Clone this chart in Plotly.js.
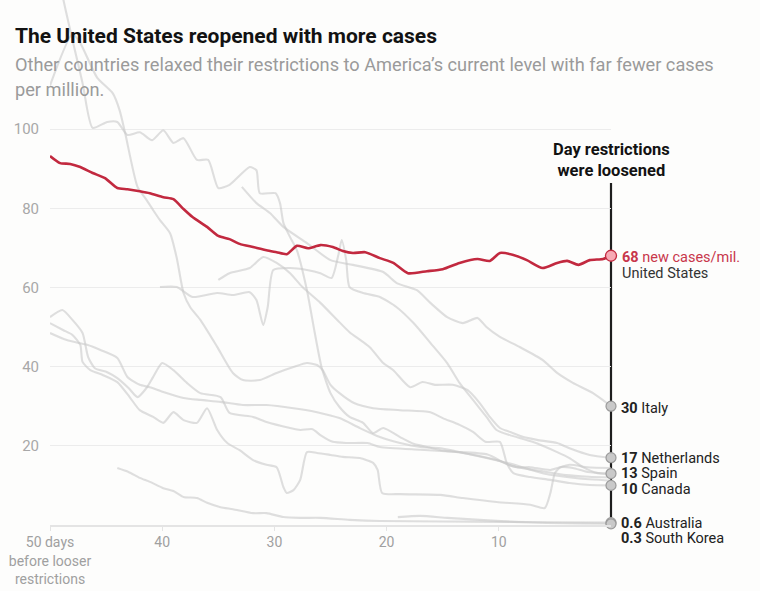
<!DOCTYPE html>
<html>
<head>
<meta charset="utf-8">
<script src="https://cdn.plot.ly/plotly-3.0.1.min.js"></script>
<style>
  html, body { margin: 0; padding: 0; background: #fdfdfc; }
  #chart { width: 760px; height: 591px; }
</style>
</head>
<body>
<div id="chart"></div>
<script>
// ---- Data (days relative to loosening, new cases per million) ----
const usDays = [-50,-49.1,-48.2,-47.3,-46.2,-45.1,-44,-43.1,-42,-41.1,-39.9,-39,-38.1,-37.3,-36,-35,-34,-33.1,-31.9,-30.7,-29.8,-28.9,-28,-27,-25.9,-24.8,-23.9,-23,-21.9,-20.6,-19.4,-18.1,-16.4,-15,-13.5,-11.9,-10.8,-9.9,-8.7,-7.5,-6.1,-4.8,-3.9,-2.9,-1.9,-0.7,0];
const usCases = [93.2,91.4,91.2,90.4,88.9,87.6,85.1,84.8,84.3,83.8,82.8,82.3,79.8,77.8,75.3,73.0,72.2,71.0,70.2,69.4,68.9,68.4,70.5,69.9,70.7,70.2,69.2,68.7,68.9,67.4,66.2,63.6,64.1,64.6,66.2,67.2,66.7,68.7,68.2,66.9,64.9,66.2,66.7,65.7,66.9,67.2,68];

const italyDays = [-32.9,-31.6,-30.4,-29.2,-27.1,-25,-23,-20.3,-19.1,-17.3,-16.1,-14.6,-13.2,-11.9,-11.1,-9.9,-8.1,-6.1,-4.8,-3.4,-1.6,0];
const italyCases = [85.4,81.3,78.8,75.3,71.2,66.9,65.7,63.9,61.1,59.3,56.1,52.5,51.0,52.3,50.0,47.5,44.9,41.7,38.4,35.9,33.3,30];

const netherlandsDays = [-35,-34,-32.2,-31,-29.8,-28.6,-27.5,-25.9,-24.4,-23.3,-21.5,-20.3,-19.4,-17.9,-16.8,-15.7,-14.1,-12.8,-11.7,-10.8,-9.9,-9,-7.8,-6.6,-4.8,-3.7,-1.9,0];
const netherlandsCases = [61.9,63.6,64.9,67.7,66.2,63.6,60.1,56.1,51.8,48.7,44.9,40.9,39.1,34.8,36.1,35.4,35.4,34.1,30.8,27.3,24.5,23.5,22.2,21.5,20.7,19.4,17.7,17];

const spainDays = [-50,-48.8,-48,-47.3,-47.1,-46.4,-45.3,-44,-42.9,-42,-40.8,-39.9,-39,-38.1,-36.9,-36,-35.1,-34.2,-33.1,-31.9,-30.7,-29.8,-29.2,-28.9,-28.3,-27.7,-27.1,-26.2,-25,-23.9,-22.4,-21.2,-20.8,-20.4,-18.8,-15.2,-13.2,-10.2,-7.2,-5.9,-5.4,-5,-4.5,-3.4,-2.1,0];
const spainCases = [51.0,49.2,48.0,45.5,41.2,39.1,37.9,36.1,32.3,29.0,27.3,25.8,28.5,26.5,25.8,29.5,24.0,20.7,18.9,16.4,15.2,14.6,9.6,8.1,8.8,11.4,18.4,18.2,17.7,17.2,16.9,15.7,13.9,8.1,7.8,7.6,6.8,5.8,5.1,4.3,8.1,13.1,14.6,14.4,13.4,13];

const canadaDays = [-50,-48,-47.3,-45.8,-44.4,-43.8,-43.3,-42.2,-41.4,-40.8,-40.2,-39.3,-38.7,-38.1,-37.5,-36.6,-35.1,-33.7,-32.8,-31.3,-29.8,-28.3,-27.1,-26.2,-25.7,-25,-24.2,-22.9,-21.2,-18.8,-16.1,-15,-13.5,-12.3,-11.2,-9.9,-9.3,-8.7,-7.2,-5.4,-3.7,-1.9,0];
const canadaCases = [111,124,121.7,113,109,104.8,99,85.4,82.1,79.5,77.0,73.7,67.4,58.6,55,51.8,45,38.4,36.6,36.6,38.4,39.9,40.9,40.4,39.1,35.4,33.3,30.8,29.5,29.0,28.5,27.0,25.3,23.5,21.0,21.0,15.7,13.1,12.1,11.4,10.6,10.1,10];

const australiaDays = [-44,-43,-42,-41.1,-39.9,-39,-38.1,-36.9,-36,-34.8,-33.7,-31.9,-30.7,-29.2,-27.7,-25.9,-23.3,-20.6,-15,-10,-5,0];
const australiaCases = [14.4,13.4,11.9,10.9,9.3,8.6,7.1,6.8,5.6,4.5,4.0,3.0,3.0,2.0,1.8,1.8,1.3,1.0,0.9,0.8,0.7,0.6];

const southKoreaDays = [-19,-17,-14.6,-11.7,-8.7,-5.7,-2.8,0];
const southKoreaCases = [2.0,2.3,1.8,1.3,0.8,0.5,0.4,0.3];

const otherADays = [-50,-48.8,-47.1,-46.2,-44.9,-44,-43.1,-42,-40.9,-39.9,-39,-38.1,-36.9,-35.9,-35,-34,-32.2,-31.6,-31.3,-29.9,-29.5,-29.2,-28.6,-28,-27.1,-26.4,-25.8,-25,-24.2,-23.3,-22.1,-21.2,-20.3,-18.8,-17.6,-16.4,-15.2,-13.2,-10.2,-8.4,-7.2,-5.4,-3.7,-2.1,0];
const otherACases = [151,132.6,111.6,100.3,101.8,101.8,98.5,99.2,97.2,99.7,96.5,97.7,92.2,92.2,85.1,85.9,90.4,89.6,83.8,83.8,81.3,76.3,72.7,69.4,59.3,48.5,39.9,33.3,29.8,27.3,25.8,23.2,24.5,22.2,20.5,19.7,18.9,18.2,16.4,14.6,14.6,13.9,15.2,14.6,14.4];

const otherBDays = [-40.2,-38.7,-37.3,-35.1,-33.7,-32.2,-31.6,-31,-30.6,-30.1,-28.6,-27.1,-25.9,-24.9,-24.3,-24,-23.6,-23.3,-22.1,-20.6,-19.1,-17.6,-16.1,-14.6,-13.5,-12.3,-11.1,-10.2,-9,-7,-4.8,-3.7,-2.5,-1.2,0];
const otherBCases = [60.1,60.1,57.6,58.6,58.1,58.8,56.8,50.5,55,64.4,64.9,64.4,63.6,62.4,68.2,72,66.9,60.1,58.6,57.6,55,51,46,40.9,35.9,31.6,27.3,24,22.7,21,18.4,16.9,14.6,13.1,12.9];

const otherCDays = [-50,-48.9,-48,-47.1,-46.6,-46,-44.9,-44,-43,-42.2,-41.4,-40.8,-40,-39,-37.8,-36.6,-34.8,-34,-31.9,-30.7,-28.6,-27.7,-26.6,-25.9,-24.8,-23.5,-21.7,-20.6,-17,-14,-11,-9,-6,-4,-2,0];
const otherCCases = [52.5,54.3,51.8,48.5,42.4,39.6,38.6,37.1,34.6,32.3,34.6,37.4,40.9,39.1,35.9,33.3,32.3,28.3,27.3,26,24.5,24,24.2,22.7,21,20.7,20.7,19.7,19,18.5,17.8,15,13.5,12.6,12.2,12];

const otherDDays = [-50,-48.5,-46.7,-45.5,-44,-43.1,-42,-41.1,-39.9,-38.1,-36.6,-34.8,-32.8,-30.7,-28.3,-26.2,-24.2,-22.4,-20.6,-18.8,-17,-15.2,-12,-9,-6,-3,0];
const otherDCases = [48.5,46.7,45.5,44.2,42.2,37.4,35.4,34.8,33.6,32.1,31.6,31.1,30.3,30.3,29.5,28.5,27,24.5,22.2,20.7,19.7,19.4,17.5,15.5,13,11.8,11.2];

const xTickVals = [-50,-40,-30,-20,-10];
const xTickText = ['50 days<br>before looser<br>restrictions','40','30','20','10'];
const yTickVals = [20,40,60,80,100];

// labelled end points
const labelNames = ['Italy','Netherlands','Spain','Canada','Australia','South Korea'];
const labelValues = [30,17,13,10,0.6,0.3];
const labelValueText = ['30','17','13','10','0.6','0.3'];
const labelShift = [-2,-1,0,-4,-1,-15];

// ---- Traces ----
const grayStyle = {color:'rgba(200,200,200,0.58)', width:2.1, shape:'spline', smoothing:0.6};
const grays = [
  [otherADays, otherACases], [canadaDays, canadaCases], [otherBDays, otherBCases],
  [otherCDays, otherCCases], [otherDDays, otherDCases], [spainDays, spainCases],
  [netherlandsDays, netherlandsCases], [italyDays, italyCases],
  [australiaDays, australiaCases], [southKoreaDays, southKoreaCases]
];
const traces = grays.map(g => ({
  x: g[0], y: g[1], type:'scatter', mode:'lines', line: grayStyle, hoverinfo:'skip', showlegend:false
}));
traces.push({
  x: usDays, y: usCases, type:'scatter', mode:'lines',
  line:{color:'#c2293f', width:2.6, shape:'spline', smoothing:0.6}, showlegend:false
});
traces.push({
  x: labelValues.map(() => 0), y: labelValues, type:'scatter', mode:'markers', cliponaxis:false,
  marker:{size:10, color:'#c9c9c9', line:{color:'#9a9a9a', width:1.2}}, showlegend:false
});
traces.push({
  x: [usDays[usDays.length-1]], y: [usCases[usCases.length-1]], type:'scatter', mode:'markers', cliponaxis:false,
  marker:{size:11, color:'#f7a9b4', line:{color:'#c2293f', width:1.3}}, showlegend:false
});

// ---- Annotations ----
const FONT = 'Roboto, "Liberation Sans", sans-serif';
const pxX = px => (px - 50) / 561;
const pxY = py => (525 - py) / 525;
const annotations = [
  {text:'<b>The United States reopened with more cases</b>', xref:'paper', yref:'paper', x:pxX(13), y:pxY(36),
   xanchor:'left', yanchor:'middle', showarrow:false, font:{family:FONT, size:21, color:'#121212'}},
  {text:'Other countries relaxed their restrictions to America’s current level with far fewer cases', xref:'paper', yref:'paper',
   x:pxX(13), y:pxY(64), xanchor:'left', yanchor:'middle', showarrow:false, font:{family:FONT, size:18.2, color:'#9a9a9a'}},
  {text:'per million.', xref:'paper', yref:'paper', x:pxX(13), y:pxY(89), xanchor:'left', yanchor:'middle',
   showarrow:false, font:{family:FONT, size:18.2, color:'#9a9a9a'}},
  {text:'<b>Day restrictions<br>were loosened</b>', xref:'paper', yref:'paper', x:1, y:pxY(160), xanchor:'center', yanchor:'middle',
   showarrow:false, align:'center', font:{family:FONT, size:16.5, color:'#121212'}},
  {text:'<b>' + usCases[usCases.length-1] + '</b> new cases/mil.', xref:'x', yref:'y', x:0, y:usCases[usCases.length-1],
   xanchor:'left', yanchor:'middle', xshift:9, yshift:-2, showarrow:false, font:{family:FONT, size:14.5, color:'#c8374b'}},
  {text:'United States', xref:'x', yref:'y', x:0, y:usCases[usCases.length-1], xanchor:'left', yanchor:'middle',
   xshift:9, yshift:-17.5, showarrow:false, font:{family:FONT, size:14.5, color:'#333333'}}
];
labelNames.forEach((n, i) => {
  annotations.push({
    text:'<b>' + labelValueText[i] + '</b> ' + n, xref:'x', yref:'y', x:0, y:labelValues[i],
    xanchor:'left', yanchor:'middle', xshift:9, yshift:labelShift[i], showarrow:false, borderpad:0,
    font:{family:FONT, size:14.5, color:'#222222'}
  });
});

const layout = {
  width:760, height:591,
  margin:{l:50, r:149, t:0, b:66, pad:0},
  paper_bgcolor:'#fdfdfc', plot_bgcolor:'#fdfdfc',
  font:{family:FONT},
  showlegend:false,
  xaxis:{
    range:[-50,0], tickvals:xTickVals, ticktext:xTickText, showgrid:false, zeroline:false,
    showline:true, linecolor:'#e4e4e4', linewidth:1.5, ticks:'outside', ticklen:4, tickcolor:'#e4e4e4',
    tickfont:{family:FONT, size:14, color:'#a0a0a0'}, fixedrange:true
  },
  yaxis:{
    range:[0,132.6], tickvals:yTickVals, showgrid:true, gridcolor:'#ececec', gridwidth:1, zeroline:false,
    showline:false, ticks:'', ticklabelstandoff:10, tickfont:{family:FONT, size:15, color:'#a8a8a8'}, fixedrange:true
  },
  shapes:[
    {type:'line', xref:'paper', yref:'paper', x0:1, x1:1, y0:0, y1:pxY(183), line:{color:'#1e1e1e', width:2.2}, layer:'below'}
  ],
  annotations: annotations
};

Plotly.newPlot('chart', traces, layout, {displayModeBar:false, staticPlot:true});
</script>
</body>
</html>
